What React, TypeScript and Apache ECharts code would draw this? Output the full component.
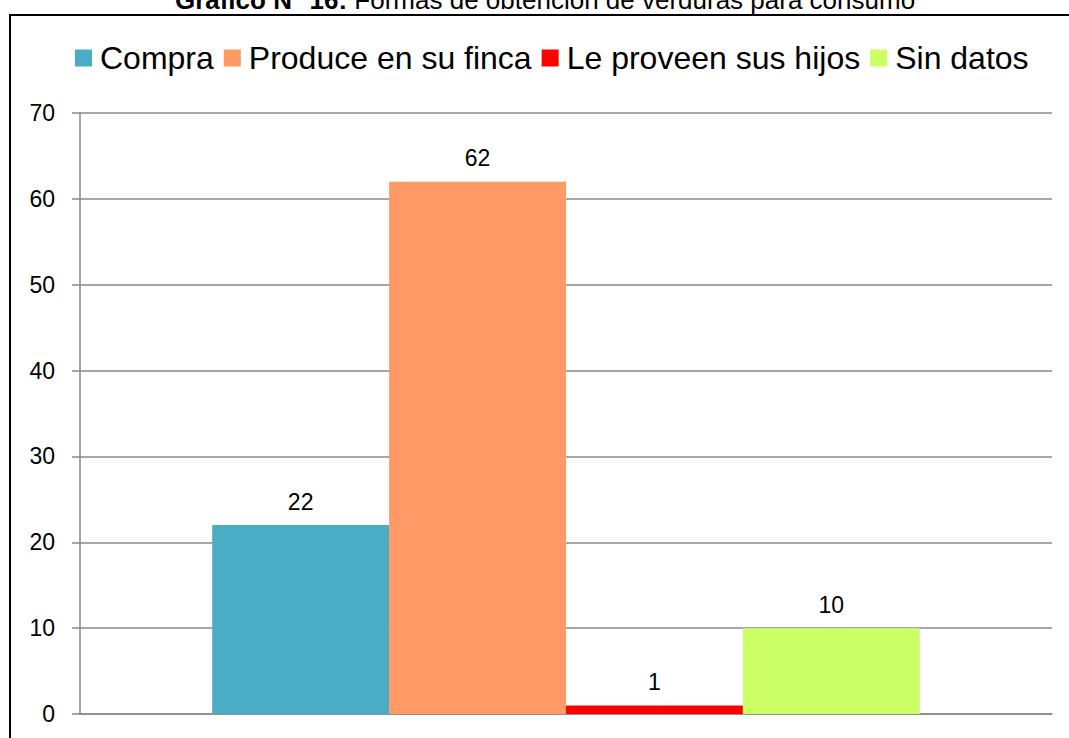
import React, { useEffect, useRef } from "react";
import * as echarts from "echarts";

const categories = ["Formas de obtención"];
const seriesNames = ["Compra", "Produce en su finca", "Le proveen sus hijos", "Sin datos"];
const seriesValues = [22, 62, 1, 10];
const seriesColors = ["#4BACC6", "#FF9966", "#FF0000", "#CCFF66"];
const yTicks = { min: 0, max: 70, interval: 10 };

export default function App() {
  const ref = useRef<HTMLDivElement>(null);
  useEffect(() => {
    document.body.style.margin = "0";
    const chart = echarts.init(ref.current!, null, { renderer: "svg" });
    chart.setOption({
      animation: false,
      backgroundColor: "#fff",
      textStyle: { fontFamily: "Liberation Sans, Arial, sans-serif" },
      graphic: [
        {
          type: "rect",
          shape: { x: 10, y: 15, width: 1200, height: 900 },
          style: { fill: "none", stroke: "#000", lineWidth: 2 },
          silent: true,
          z: 10,
        },
        {
          type: "text",
          x: 545,
          y: 13,
          style: {
            text: "{b|Gráfico N° 16:} Formas de obtención de verduras para consumo",
            fontSize: 26,
            fill: "#000",
            fontFamily: "Liberation Sans, Arial, sans-serif",
            align: "center",
            verticalAlign: "bottom",
            rich: {
              b: { fontWeight: "bold", fontSize: 26, fill: "#000", fontFamily: "Liberation Sans, Arial, sans-serif" },
            },
          },
        },
      ],
      legend: {
        top: 37,
        left: 70,
        itemWidth: 17,
        itemHeight: 17,
        itemGap: 10,
        icon: "rect",
        textStyle: { fontSize: 32, color: "#000", padding: [0, 0, 0, 3] },
        data: seriesNames,
      },
      grid: { left: 80, right: 17, top: 113, bottom: 24 },
      xAxis: {
        type: "category",
        data: categories,
        axisLine: { show: true, lineStyle: { color: "#898989", width: 1.5 } },
        axisTick: { show: false },
        axisLabel: { show: false },
      },
      yAxis: {
        type: "value",
        min: yTicks.min,
        max: yTicks.max,
        interval: yTicks.interval,
        axisLine: { show: true, lineStyle: { color: "#898989", width: 1.5 } },
        axisTick: { show: true, length: 8, lineStyle: { color: "#898989", width: 1.5 } },
        axisLabel: { fontSize: 23, color: "#000", margin: 25 },
        splitLine: { lineStyle: { color: "#898989", width: 1.5 } },
      },
      series: seriesNames.map((name, i) => ({
        name,
        type: "bar",
        data: [seriesValues[i]],
        itemStyle: { color: seriesColors[i] },
        barGap: "0%",
        barCategoryGap: "27.2%",
        label: { show: true, position: "top", fontSize: 23, color: "#000", distance: 12 },
      })),
    });
    return () => chart.dispose();
  }, []);
  return <div ref={ref} style={{ position: "absolute", left: 0, top: 0, width: 1069, height: 738 }} />;
}
